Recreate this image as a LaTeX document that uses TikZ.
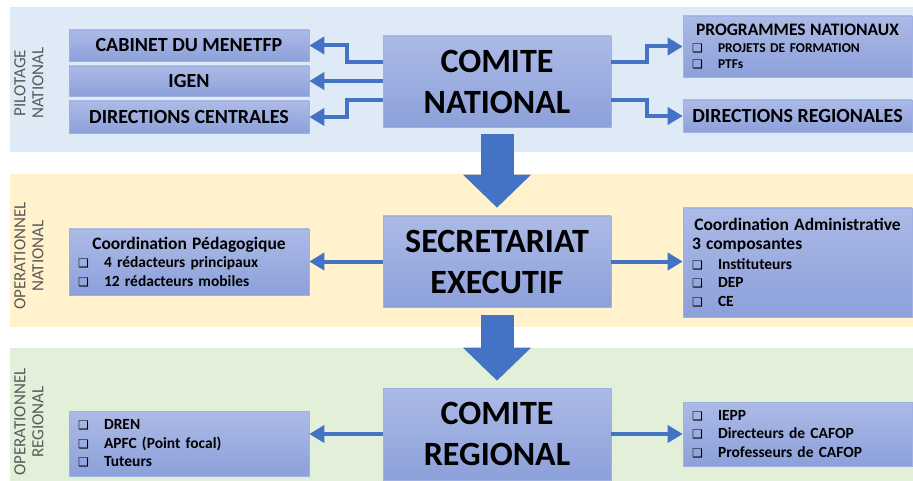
\documentclass[tikz,border=0pt]{standalone}
\usepackage{fontspec}
\setmainfont{Carlito}
\newfontfamily\sqfont{DejaVu Sans}
\usetikzlibrary{arrows.meta}

\definecolor{bandblue}{HTML}{DEEBF7}
\definecolor{bandyellow}{HTML}{FFF2CC}
\definecolor{bandgreen}{HTML}{E2F0D9}
\definecolor{boxtop}{RGB}{172,186,230}
\definecolor{boxbot}{RGB}{140,160,218}
\definecolor{boxedge}{RGB}{160,176,226}
\definecolor{linkblue}{HTML}{4472C4}
\definecolor{levelgray}{HTML}{595959}

% one line of a list, with its square bullet
\newcommand{\chkline}[1]{\makebox[26pt][l]{\sqfont\fontsize{12}{12}\selectfont ❑}#1}
\newcommand{\headline}[1]{\makebox[\hsize]{\fontsize{17.5}{20}\selectfont #1}}

\begin{document}
\begin{tikzpicture}
[x=1pt,y=-1pt,
panel/.style={draw=boxedge,line width=0.6pt,top color=boxtop,bottom color=boxbot,inner sep=0pt},
bigbox/.style={panel,minimum width=228pt,minimum height=#1,align=center,
  font=\bfseries\fontsize{34}{41}\selectfont},
unitbox/.style={panel,minimum width=240pt,minimum height=#1,
  font=\bfseries\fontsize{20}{22}\selectfont},
listbox/.style={panel,text width=#1,align=left,inner xsep=9pt,
  font=\bfseries\fontsize{15.5}{18.5}\selectfont},
link/.style={draw=linkblue,line width=4pt,-{Triangle[length=15pt,width=17pt]}},
flow/.style={draw=linkblue,line width=33pt,-{Triangle[length=33pt,width=66pt]}},
levellabel/.style={rotate=90,align=center,text=levelgray,
  font=\fontsize{17}{18}\selectfont},
]
\useasboundingbox (0,0) rectangle (913,481);

% the three levels
\fill[bandblue] (10,7) rectangle (913,152);
\fill[bandyellow] (10,174) rectangle (913,327);
\fill[bandgreen] (10,348) rectangle (913,481);
\node[levellabel] (lvl1) at (29,83) {PILOTAGE\\NATIONAL};
\node[levellabel] (lvl2) at (29,256) {OPERATIONNEL\\NATIONAL};
\node[levellabel] (lvl3) at (29,422) {OPERATIONNEL\\REGIONAL};

% central column
\node[bigbox=91pt] (cn) at (497,81.5) {COMITE\\NATIONAL};
\node[bigbox=91pt] (se) at (497,261.5) {SECRETARIAT\\EXECUTIF};
\node[bigbox=92pt] (cr) at (497,434) {COMITE\\REGIONAL};

% pilotage national
\node[unitbox=31pt] (cab) at (189,45.5) {CABINET DU MENETFP};
\node[unitbox=30pt] (igen) at (189,81) {IGEN};
\node[unitbox=32pt] (dc) at (189,117) {DIRECTIONS CENTRALES};
\node[listbox=211pt,minimum height=61pt,font=\bfseries\fontsize{13.5}{15.5}\selectfont] (pn) at (797.5,46.5)
  {\headline{PROGRAMMES NATIONAUX}\\[2pt]
   \chkline{PROJETS DE FORMATION}\\
   \chkline{PTFs}};
\node[unitbox=32pt,minimum width=229pt] (dr) at (797.5,116) {DIRECTIONS REGIONALES};

% operationnel national
\node[listbox=222pt,minimum height=66pt] (cp) at (189,262)
  {\headline{Coordination Pédagogique}\\
   \chkline{4 rédacteurs principaux}\\
   \chkline{12 rédacteurs mobiles}};
\node[listbox=211pt,minimum height=109pt] (ca) at (797.5,262.5)
  {\headline{Coordination Administrative}\\[1pt]
   {\fontsize{17.5}{20}\selectfont 3 composantes}\\[1pt]
   \chkline{Instituteurs}\\
   \chkline{DEP}\\
   \chkline{CE}};

% operationnel regional
\node[listbox=222pt,minimum height=65pt] (dren) at (189,443.5)
  {\chkline{DREN}\\
   \chkline{APFC (Point focal)}\\
   \chkline{Tuteurs}};
\node[listbox=211pt,minimum height=64pt] (iepp) at (797.5,434)
  {\chkline{IEPP}\\
   \chkline{Directeurs de CAFOP}\\
   \chkline{Professeurs de CAFOP}};

% links
\draw[link] ([yshift=19.5pt]cn.west) -- ++(-36,0) |- (cab.east);
\draw[link] (cn.west |- igen.east) -- (igen.east);
\draw[link] ([yshift=-18.5pt]cn.west) -- ++(-36,0) |- (dc.east);
\draw[link] ([yshift=19.5pt]cn.east) -- ++(36,0) |- (pn.west);
\draw[link] ([yshift=-18.5pt]cn.east) -- ++(36,0) |- (dr.west);
\draw[link] (se.west) -- (se.west -| cp.east);
\draw[link] (se.east) -- (se.east -| ca.west);
\draw[link] (cr.west) -- (cr.west -| dren.east);
\draw[link] (cr.east) -- (cr.east -| iepp.west);

\draw[flow] ([yshift=-7pt]cn.south) -- ([yshift=8pt]se.north);
\draw[flow] ([yshift=-8pt]se.south) -- ([yshift=7pt]cr.north);
\end{tikzpicture}
\end{document}
